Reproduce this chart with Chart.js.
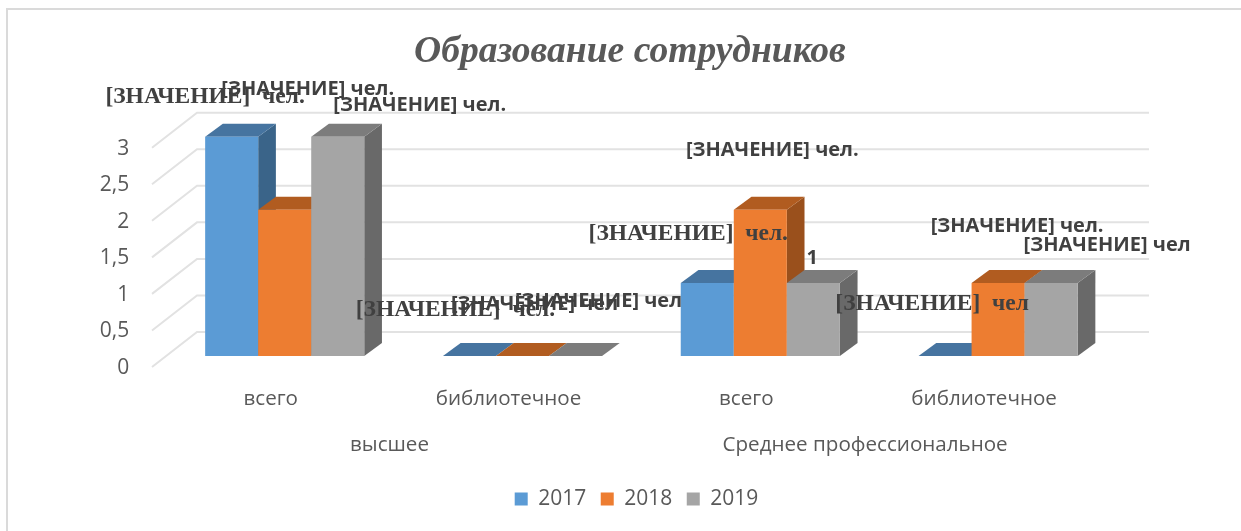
<!DOCTYPE html>
<html><head><meta charset="utf-8">
<style>html,body{margin:0;padding:0;background:#fff}#w{width:1241px;height:531px;position:relative}</style>
<script src="https://cdn.jsdelivr.net/npm/chart.js@4"></script>
</head><body><div id="w"><canvas id="c" width="1241" height="531"></canvas></div>
<script>
const CATEGORIES = ['всего','библиотечное','всего','библиотечное'];
const GROUPS = ['высшее','','Среднее профессиональное',''];
const YEARS = ['2017','2018','2019'];
const VALUES_2017 = [3,0,1,0];
const VALUES_2018 = [2,0,2,1];
const VALUES_2019 = [3,0,1,1];
const LABELS_2017 = ['[ЗНАЧЕНИЕ]  чел.','[ЗНАЧЕНИЕ]  чел.','[ЗНАЧЕНИЕ]  чел.','[ЗНАЧЕНИЕ]  чел'];
const LABELS_2018 = ['[ЗНАЧЕНИЕ] чел.','[ЗНАЧЕНИЕ] чел','[ЗНАЧЕНИЕ] чел.','[ЗНАЧЕНИЕ] чел.'];
const LABELS_2019 = ['[ЗНАЧЕНИЕ] чел.','[ЗНАЧЕНИЕ] чел','1','[ЗНАЧЕНИЕ] чел'];
const TITLE = 'Образование сотрудников';

const SANS = '"Open Sans", sans-serif';
const SERIF = '"Liberation Serif", serif';
const TEXT = '#595959', LABEL = '#404040', GRID = '#E2E2E2';
const FRONT = ['#5B9BD5','#ED7D31','#A5A5A5'];
const TOP = ['#4674A0','#B15C20','#7C7C7C'];
const SIDE = ['#3A6489','#9A501C','#696969'];
const DEPTH_X = 17.7, DEPTH_Y = -13;
// label placement relative to each bar's top centre [series][category]
const LABEL_OFFSET = [
  [[-26.6,-40],[-14,-46],[-19,-49],[-13,-52]],
  [[23,-121],[12,-52],[12,-60],[19,-57]],
  [[82,-31],[23,-55],[-1,-25],[56,-38]]
];
const LABEL_FONT = [
  'bold 23.5px '+SERIF,
  'bold 20px '+SANS,
  'bold 20px '+SANS
];
const SERIES_LABELS = [LABELS_2017,LABELS_2018,LABELS_2019];

const frame3d = {
  id:'frame3d',
  afterLayout(chart){ chart.titleBlock.left += 58; chart.legend.left += 71; },
  beforeDatasetsDraw(chart){
    const c = chart.ctx, y = chart.scales.y;
    c.save();
    c.strokeStyle = '#DADADA'; c.lineWidth = 2;
    c.beginPath(); c.moveTo(7,531); c.lineTo(7,9); c.lineTo(1241,9); c.stroke();
    c.strokeStyle = GRID; c.lineWidth = 2;
    y.ticks.forEach(t=>{
      const p = y.getPixelForValue(t.value);
      c.beginPath();
      c.moveTo(152,p+11); c.lineTo(197,p-24); c.lineTo(1149,p-24);
      c.stroke();
    });
    c.restore();
    // series painted left to right: extrusion first, then the library's bar element
    YEARS.forEach((_,i)=>{
      chart.getDatasetMeta(i).data.forEach(b=>{
        const p = b.getProps(['x','y','base','width'],true);
        const l = p.x-p.width/2, r = p.x+p.width/2;
        c.save();
        c.fillStyle = SIDE[i];
        c.beginPath(); c.moveTo(r,p.y); c.lineTo(r+DEPTH_X,p.y+DEPTH_Y); c.lineTo(r+DEPTH_X,p.base+DEPTH_Y); c.lineTo(r,p.base); c.closePath(); c.fill();
        c.fillStyle = TOP[i];
        c.beginPath(); c.moveTo(l,p.y); c.lineTo(l+DEPTH_X,p.y+DEPTH_Y); c.lineTo(r+DEPTH_X,p.y+DEPTH_Y); c.lineTo(r,p.y); c.closePath(); c.fill();
        c.restore();
      });
      chart.getDatasetMeta(i).data.forEach(b=>b.draw(c));
    });
  },
  beforeDatasetDraw(){ return false; },
  afterDatasetsDraw(chart){
    const c = chart.ctx;
    c.save();
    c.fillStyle = LABEL; c.textAlign='center'; c.textBaseline='middle';
    SERIES_LABELS.forEach((row,s)=>{
      const meta = chart.getDatasetMeta(s);
      c.font = LABEL_FONT[s];
      row.forEach((txt,k)=>{
        const b = meta.data[k], o = LABEL_OFFSET[s][k];
        c.fillText(txt,b.x+o[0],b.y+o[1]);
      });
    });
    c.restore();
  }
};

const mk=(label,data,i)=>({label,data,backgroundColor:FRONT[i],borderWidth:0,categoryPercentage:0.669,barPercentage:1});
new Chart(document.getElementById('c'),{
  type:'bar',
  data:{labels:CATEGORIES,datasets:[
    mk(YEARS[0],VALUES_2017,0),
    mk(YEARS[1],VALUES_2018,1),
    mk(YEARS[2],VALUES_2019,2)
  ]},
  plugins:[frame3d],
  options:{
    responsive:false,animation:false,
    layout:{padding:{left:85,right:124,top:0,bottom:11.5}},
    plugins:{
      tooltip:{enabled:false},
      title:{display:true,text:TITLE,color:TEXT,
        font:{family:SERIF,size:37.6,weight:'bold',style:'italic',lineHeight:1.2},
        padding:{top:30,bottom:61.6}},
      legend:{position:'bottom',labels:{color:TEXT,font:{family:SANS,size:21},boxWidth:13,boxHeight:13,padding:14.5}}
    },
    scales:{
      x:{grid:{display:false},border:{display:false},
        ticks:{color:TEXT,font:{family:SANS,size:20.6},labelOffset:-14,padding:22.5,maxRotation:0,minRotation:0,autoSkip:false},
        afterFit(s){s.height=60;},weight:1},
      x2:{axis:'x',type:'category',labels:GROUPS,offset:true,position:'bottom',grid:{display:false},border:{display:false},
        ticks:{color:TEXT,font:{family:SANS,size:20.6},labelOffset:104.8,padding:8.5,maxRotation:0,minRotation:0,autoSkip:false},
        afterFit(s){s.height=58;},weight:2},
      y:{min:0,max:3,grid:{display:false,drawTicks:false},border:{display:false},
        ticks:{stepSize:0.5,color:TEXT,font:{family:SANS,size:21},labelOffset:12,padding:36.5,
          callback:v=>String(v).replace('.',',')},
        afterFit(s){s.width=80.8;}}
    }
  }
});
</script></body></html>
